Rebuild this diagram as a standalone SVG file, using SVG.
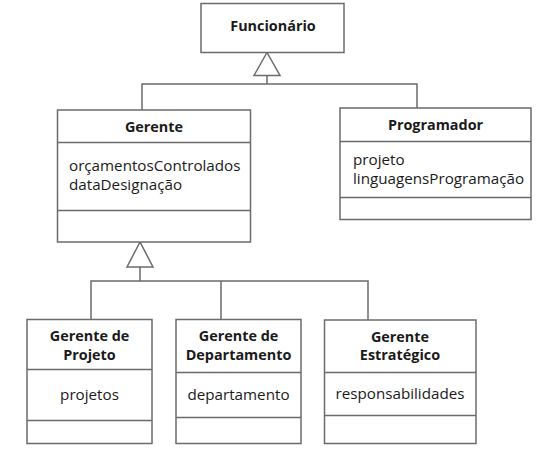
<svg xmlns="http://www.w3.org/2000/svg" width="556" height="452" viewBox="0 0 556 452">
<style>
.box{fill:#fff;stroke:#6b6b6b;stroke-width:1.5}
.ln{fill:none;stroke:#6b6b6b;stroke-width:1.5}
.tri{fill:#fff;stroke:#6b6b6b;stroke-width:1.5;stroke-linejoin:miter}
text{font-family:"Open Sans","DejaVu Sans",sans-serif;font-size:15.2px;fill:#1a1a1a}
.b{font-weight:bold;text-anchor:middle;font-size:14.4px}
.m{text-anchor:middle}
</style>
<rect width="556" height="452" fill="#fff"/>
<g id="connectors">
<path class="ln" d="M267,75.5 V84 M142,110 V84 H417 V108"/>
<polygon class="tri" points="267,52.5 254,75.5 280,75.5"/>
<path class="ln" d="M140,267 V281 M91,319 V281 H368 V320 M221,281 V319"/>
<polygon class="tri" points="140,242 127,267 153,267"/>
</g>
<g id="funcionario">
<rect class="box" x="201" y="3.5" width="143" height="49"/>
<text class="b" x="273" y="31">Funcionário</text>
</g>
<g id="gerente">
<rect class="box" x="57.5" y="110" width="193" height="132"/>
<path class="ln" d="M57.5,142.5 H250.5 M57.5,210.5 H250.5"/>
<text class="b" x="154" y="131.5">Gerente</text>
<text x="69" y="171">orçamentosControlados</text>
<text x="69" y="190">dataDesignação</text>
</g>
<g id="programador">
<rect class="box" x="340" y="108" width="191" height="111.5"/>
<path class="ln" d="M340,141.5 H531 M340,197.5 H531"/>
<text class="b" x="435.5" y="129.5">Programador</text>
<text x="353" y="165">projeto</text>
<text x="353" y="184">linguagensProgramação</text>
</g>
<g id="gerente-projeto">
<rect class="box" x="27" y="319.5" width="125" height="124"/>
<path class="ln" d="M27,369.5 H152 M27,420.5 H152"/>
<text class="b" x="89.5" y="341">Gerente de</text>
<text class="b" x="89.5" y="360">Projeto</text>
<text class="m" x="89.5" y="400">projetos</text>
</g>
<g id="gerente-departamento">
<rect class="box" x="176" y="319.5" width="125" height="124"/>
<path class="ln" d="M176,372.5 H301 M176,417.5 H301"/>
<text class="b" x="238.5" y="341">Gerente de</text>
<text class="b" x="238.5" y="360">Departamento</text>
<text class="m" x="238.5" y="400">departamento</text>
</g>
<g id="gerente-estrategico">
<rect class="box" x="324.5" y="320" width="151.5" height="123.5"/>
<path class="ln" d="M324.5,372.5 H476 M324.5,415.5 H476"/>
<text class="b" x="400" y="341.5">Gerente</text>
<text class="b" x="400" y="360">Estratégico</text>
<text class="m" x="400" y="399">responsabilidades</text>
</g>
</svg>
